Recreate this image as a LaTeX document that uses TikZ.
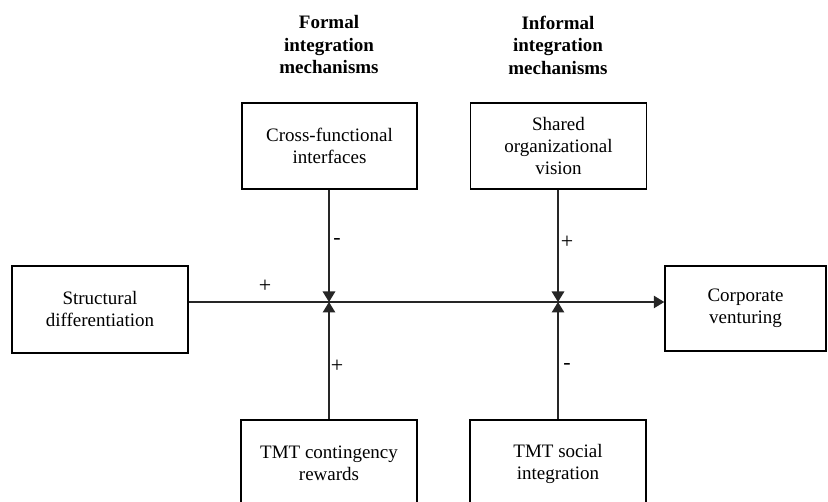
\documentclass[tikz,border=0pt]{standalone}
\usepackage{fontspec}
\setmainfont{Liberation Serif}
\usetikzlibrary{arrows.meta}
\begin{document}
\begin{tikzpicture}[x=1pt,y=-1pt,
  box/.style={draw=black,line width=1.5pt,align=center,inner sep=2pt,
    font=\fontsize{19}{22}\selectfont},
  head/.style={align=center,font=\fontsize{19}{22.5}\selectfont\bfseries},
  conn/.style={draw=black!85,line width=1.3pt,-{Triangle[length=10.5pt,width=12.5pt]}},
  sign/.style={font=\fontsize{22}{24}\selectfont,inner sep=0pt}]
\useasboundingbox (0,0) rectangle (828,502);
\clip (0,0) rectangle (828,502);
\node[box,minimum width=176pt,minimum height=87pt] (sd) at (100,309.5) {Structural\\differentiation};
\node[box,minimum width=161pt,minimum height=85pt] (cv) at (745.5,308.5) {Corporate\\venturing};
\node[box,minimum width=175pt,minimum height=86pt] (cf) at (329.5,146) {Cross-functional\\interfaces};
\node[box,minimum width=176pt,minimum height=86pt] (sv) at (558.5,146) {Shared\\organizational\\vision};
\node[box,minimum width=176pt,minimum height=87pt] (tr) at (329,463.5) {TMT contingency\\rewards};
\node[box,minimum width=176pt,minimum height=87pt] (ts) at (558,463.5) {TMT social\\integration};
\node[head] (hf) at (329,45) {Formal\\integration\\mechanisms};
\node[head] (hi) at (558,45) {Informal\\integration\\mechanisms};
\coordinate (j1) at (329,302);
\coordinate (j2) at (558,302);
\draw[draw=black!85,line width=1.3pt] (sd.east |- j1) -- (j2);
\draw[conn] (j2) -- (cv.west |- j1);
\draw[conn] (cf.south -| j1) -- (j1);
\draw[conn] (tr.north -| j1) -- (j1);
\draw[conn] (sv.south -| j2) -- (j2);
\draw[conn] (ts.north -| j2) -- (j2);
\node[sign] (p1) at (265,286) {+};
\node[sign] (m1) at (337,242) {-};
\node[sign] (p2) at (337,366) {+};
\node[sign] (p3) at (567,242) {+};
\node[sign] (m2) at (567,366) {-};
\end{tikzpicture}
\end{document}
